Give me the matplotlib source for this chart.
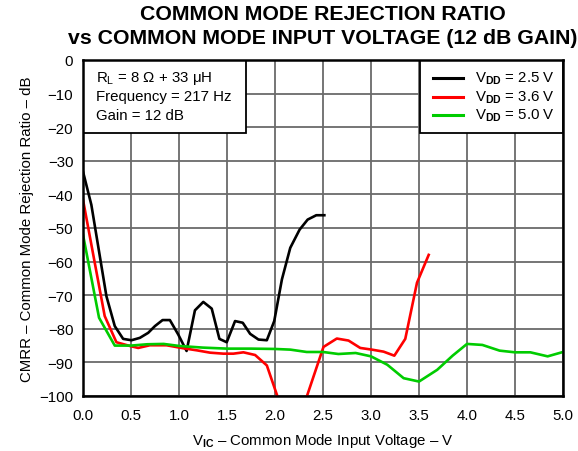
import matplotlib
matplotlib.use("Agg")
import matplotlib.pyplot as plt
from matplotlib.lines import Line2D
from matplotlib.patches import Rectangle

plt.rcParams['font.family'] = ['Liberation Sans', 'DejaVu Sans']
plt.rcParams['mathtext.fontset'] = 'custom'
plt.rcParams['mathtext.rm'] = 'Liberation Sans'
plt.rcParams['mathtext.bf'] = 'Liberation Sans:bold'

# CMRR (dB) vs common mode input voltage (V), one curve per supply
vic_25 = [0.00, 0.087, 0.244, 0.331, 0.418, 0.505, 0.592, 0.679, 0.749, 0.829,
          0.905, 0.992, 1.079, 1.166, 1.253, 1.341, 1.421, 1.497, 1.584, 1.664,
          1.741, 1.828, 1.915, 1.992, 2.072, 2.159, 2.256, 2.340, 2.430, 2.514]
cmrr_25 = [-33.2, -43.1, -70.3, -79.2, -83.0, -83.4, -82.7, -81.2, -79.2, -77.4,
           -77.4, -81.7, -86.6, -74.5, -72.0, -74.0, -83.0, -84.0, -77.7, -78.2,
           -81.5, -83.2, -83.4, -77.7, -65.3, -55.9, -50.5, -47.5, -46.2, -46.2]

vic_36 = [0.00, 0.226, 0.348, 0.487, 0.575, 0.696, 0.870, 1.045, 1.184, 1.323,
          1.462, 1.567, 1.671, 1.793, 1.915, 2.18, 2.505, 2.644, 2.766, 2.888,
          3.009, 3.131, 3.243, 3.357, 3.479, 3.601]
cmrr_36 = [-41.6, -76.2, -84.0, -85.1, -85.7, -84.9, -84.9, -85.8, -86.4, -87.1,
           -87.4, -87.4, -87.0, -87.8, -90.9, -113.0, -85.4, -82.9, -83.5, -85.7,
           -86.2, -86.8, -88.0, -83.0, -66.3, -58.0]

vic_50 = [0.00, 0.167, 0.331, 0.50, 0.67, 0.84, 1.00, 1.25, 1.50, 1.75,
          2.00, 2.16, 2.33, 2.50, 2.66, 2.84, 3.00, 3.17, 3.34, 3.50,
          3.69, 3.85, 4.00, 4.16, 4.34, 4.50, 4.66, 4.84, 5.00]
cmrr_50 = [-52.0, -76.7, -85.0, -85.0, -84.6, -84.5, -85.1, -85.6, -85.9, -85.9,
           -86.0, -86.2, -86.9, -86.9, -87.5, -87.2, -88.2, -90.7, -94.7, -95.7,
           -92.2, -88.0, -84.5, -84.8, -86.5, -87.0, -87.0, -88.2, -86.9]

series = [
    (vic_25, cmrr_25, 'black', r'V$_{\mathbf{DD}}$ = 2.5 V'),
    (vic_36, cmrr_36, '#ff0000', r'V$_{\mathbf{DD}}$ = 3.6 V'),
    (vic_50, cmrr_50, '#00cc00', r'V$_{\mathbf{DD}}$ = 5.0 V'),
]
conditions = ['R$_{\\mathrm{L}}$ = 8 \u03a9 + 33 \u03bcH', 'Frequency = 217 Hz', 'Gain = 12 dB']

W, H = 578, 452
fig = plt.figure(figsize=(W / 100, H / 100), dpi=100)
ax = fig.add_axes([83 / W, 1 - 397 / H, 480 / W, 336 / H])

for x, y, c, lab in series:
    ax.plot(x, y, color=c, lw=1.9, label=lab, zorder=3)

ax.set_xlim(0, 5)
ax.set_ylim(-100, 0)
ax.set_xticks([i * 0.5 for i in range(11)])
ax.set_xticklabels(['%.1f' % (i * 0.5) for i in range(11)])
ax.set_yticks(range(-100, 1, 10))
ax.set_yticklabels(['\u2212%d' % (-v) if v < 0 else '0' for v in range(-100, 1, 10)])
ax.tick_params(length=0, labelsize=10.8)
ax.tick_params(axis='x', pad=9)
ax.tick_params(axis='y', pad=7)
ax.grid(True, color='#6a6a6a', lw=1.3, zorder=1)
for s in ax.spines.values():
    s.set_linewidth(1.8)
    s.set_zorder(6)

ax.set_xlabel('V$_{\\mathbf{IC}}$ \u2013 Common Mode Input Voltage \u2013 V', fontsize=10.8, labelpad=6)
ax.set_ylabel('CMRR \u2013 Common Mode Rejection Ratio \u2013 dB', fontsize=10.8, labelpad=4)

fig.text(322.5 / W, 1 - 15 / H, 'COMMON MODE REJECTION RATIO', ha='center', va='center',
         fontsize=15.3, fontweight='bold')
fig.text(322.5 / W, 1 - 38 / H, 'vs COMMON MODE INPUT VOLTAGE (12 dB GAIN)', ha='center',
         va='center', fontsize=15.3, fontweight='bold')

# test conditions box, flush with the top-left corner
px = lambda xp: (xp - 83) / 480
py = lambda yp: (397 - yp) / 336
ax.add_patch(Rectangle((0, py(134)), px(246), 1 - py(134), transform=ax.transAxes,
                       fc='white', ec='black', lw=1.3, zorder=5))
for txt, yp in zip(conditions, [78.5, 97.5, 116.5]):
    ax.text(px(96.5), py(yp), txt, transform=ax.transAxes, ha='left', va='center',
            fontsize=10.8, zorder=7)

# legend box, flush with the top-right corner
ax.add_patch(Rectangle((px(420), py(134)), 1 - px(420), 1 - py(134), transform=ax.transAxes,
                       fc='white', ec='black', lw=1.3, zorder=5))
for (_, _, c, lab), yp in zip(series, [79, 97.5, 116]):
    ax.add_line(Line2D([px(433), px(463)], [py(yp), py(yp)], transform=ax.transAxes,
                       color=c, lw=2.2, zorder=7))
    ax.text(px(475), py(yp), lab, transform=ax.transAxes, ha='left', va='center',
            fontsize=10.8, zorder=7)

fig.savefig('out.png', dpi=100)
